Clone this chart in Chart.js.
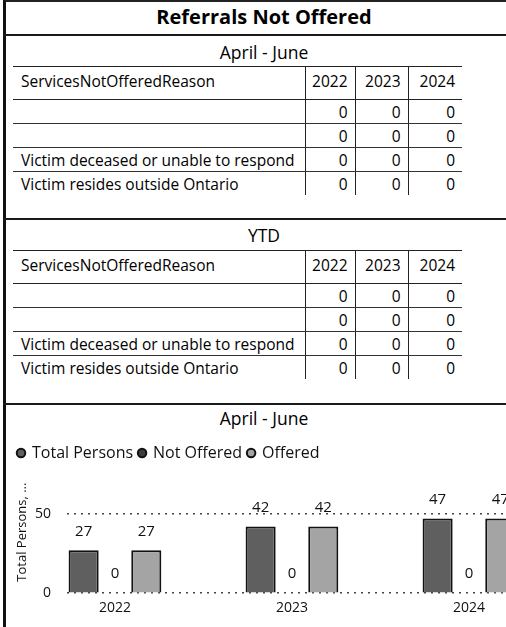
<!DOCTYPE html>
<html lang="en">
<head>
  <meta charset="UTF-8">
  <title>Referrals Not Offered</title>
  <script src="https://cdn.jsdelivr.net/npm/chart.js"></script>
  <style>
    html, body { margin: 0; padding: 0; background: #fff; overflow: hidden; }
    body { width: 506px; height: 627px; position: relative; font-family: "Open Sans", sans-serif; color: #000; }
    #frame { position: absolute; left: 3px; top: 0; width: 560px; height: 627px; border-left: 3px solid #111; border-top: 2px solid #222; box-sizing: border-box; }
    .rule { position: absolute; left: 3px; width: 560px; height: 0; border-top: 2px solid #1a1a1a; }
    .heading { position: absolute; left: 4px; width: 520px; text-align: center; }
    #title { top: 3px; font-size: 20px; font-weight: bold; line-height: 28px; }
    .sub { font-size: 17.5px; line-height: 22px; }
    table { position: absolute; left: 13px; width: 449px; border-collapse: collapse; table-layout: fixed; font-size: 15.5px; }
    th, td { padding: 0; font-weight: normal; }
    th { height: 33px; vertical-align: top; padding-top: 3px; box-sizing: border-box; border-top: 1.5px solid #222; border-bottom: 1.5px solid #222; }
    td { height: 23px; border-bottom: 1px solid #333; }
    tr:last-child td { border-bottom: none; }
    th.name, td.name { text-align: left; padding-left: 8px; white-space: nowrap; }
    th.num, td.num { text-align: right; padding-right: 7px; border-left: 1.5px solid #222; }
    #chartBox { position: absolute; left: 7px; top: 439px; width: 560px; height: 188px; }
  </style>
</head>
<body>
  <div id="frame"></div>
  <div class="rule" style="top:34px"></div>
  <div class="rule" style="top:218px"></div>
  <div class="rule" style="top:403px"></div>

  <div class="heading" id="title">Referrals Not Offered</div>
  <div class="heading sub" style="top:41px">April - June</div>
  <table id="tblQuarter" style="top:66px"></table>
  <div class="heading sub" style="top:224px">YTD</div>
  <table id="tblYtd" style="top:250px"></table>

  <div class="heading sub" style="top:407px">April - June</div>
  <div id="chartBox"><canvas id="myChart" width="560" height="188"></canvas></div>

  <script>
    // table data
    const reasonHeader = 'ServicesNotOfferedReason';
    const years = ['2022', '2023', '2024'];
    const reasons = ['', '', 'Victim deceased or unable to respond', 'Victim resides outside Ontario'];
    const quarter2022 = [0, 0, 0, 0];
    const quarter2023 = [0, 0, 0, 0];
    const quarter2024 = [0, 0, 0, 0];
    const ytd2022 = [0, 0, 0, 0];
    const ytd2023 = [0, 0, 0, 0];
    const ytd2024 = [0, 0, 0, 0];

    // chart data (April - June)
    const totalPersons = [27, 42, 47];
    const notOffered = [0, 0, 0];
    const offered = [27, 42, 47];

    function fillTable(id, cols) {
      const table = document.getElementById(id);
      const colgroup = document.createElement('colgroup');
      [292, 50, 53, 54].forEach(w => {
        const c = document.createElement('col');
        c.style.width = w + 'px';
        colgroup.appendChild(c);
      });
      table.appendChild(colgroup);
      const thead = document.createElement('thead');
      const hr = document.createElement('tr');
      const th0 = document.createElement('th');
      th0.className = 'name';
      th0.textContent = reasonHeader;
      hr.appendChild(th0);
      years.forEach(y => {
        const th = document.createElement('th');
        th.className = 'num';
        th.textContent = y;
        hr.appendChild(th);
      });
      thead.appendChild(hr);
      table.appendChild(thead);
      const tbody = document.createElement('tbody');
      reasons.forEach((r, i) => {
        const tr = document.createElement('tr');
        const td0 = document.createElement('td');
        td0.className = 'name';
        td0.textContent = r;
        tr.appendChild(td0);
        cols.forEach(col => {
          const td = document.createElement('td');
          td.className = 'num';
          td.textContent = col[i];
          tr.appendChild(td);
        });
        tbody.appendChild(tr);
      });
      table.appendChild(tbody);
    }
    fillTable('tblQuarter', [quarter2022, quarter2023, quarter2024]);
    fillTable('tblYtd', [ytd2022, ytd2023, ytd2024]);

    // value labels above the bars
    const valueLabels = {
      id: 'valueLabels',
      afterDatasetsDraw(chart) {
        const ctx = chart.ctx;
        ctx.save();
        ctx.font = '15px "Open Sans"';
        ctx.fillStyle = '#111';
        ctx.textAlign = 'center';
        ctx.textBaseline = 'middle';
        chart.data.datasets.forEach((ds, i) => {
          chart.getDatasetMeta(i).data.forEach((bar, j) => {
            ctx.fillText(ds.data[j].y, bar.x, bar.y - 19);
          });
        });
        ctx.restore();
      }
    };

    const toPoints = vals => years.map((y, i) => ({ x: Number(y), y: vals[i] }));
    const xMin = 2021.729, xMax = 2024.554;

    Chart.defaults.font.family = '"Open Sans", sans-serif';
    Chart.defaults.color = '#111';

    new Chart(document.getElementById('myChart'), {
      type: 'bar',
      data: {
        datasets: [
          { label: 'Total Persons', data: toPoints(totalPersons), backgroundColor: '#5f5f5f', borderColor: '#111', borderWidth: 2 },
          { label: 'Not Offered', data: toPoints(notOffered), backgroundColor: '#3c3c3c', borderColor: '#111', borderWidth: 2 },
          { label: 'Offered', data: toPoints(offered), backgroundColor: '#a4a4a4', borderColor: '#111', borderWidth: 2 }
        ]
      },
      options: {
        responsive: false,
        animation: false,
        categoryPercentage: 0.531,
        barPercentage: 0.96,
        layout: { padding: { left: 5, right: 0, top: 0, bottom: 5 } },
        plugins: {
          legend: {
            position: 'top',
            align: 'start',
            labels: { usePointStyle: true, pointStyle: 'circle', boxWidth: 6, boxHeight: 6, font: { size: 16 }, color: '#111', padding: 6 }
          },
          tooltip: { enabled: false }
        },
        scales: {
          x: {
            type: 'linear',
            offset: false,
            min: xMin,
            max: xMax,
            afterBuildTicks: s => {
              s.min = xMin;
              s.max = xMax;
              s.ticks = years.map(y => ({ value: Number(y) }));
            },
            grid: { display: false, drawTicks: false },
            border: { display: false },
            ticks: { padding: 6, maxRotation: 0, autoSkip: false, font: { size: 14 }, callback: v => String(v) }
          },
          y: {
            min: 0,
            max: 77,
            afterFit: s => { s.width = 55; },
            grid: { drawTicks: false, color: '#444', lineWidth: 1.5 },
            border: { display: false, dash: [2, 5] },
            ticks: { stepSize: 50, includeBounds: false, padding: 16, font: { size: 14 } },
            title: { display: true, text: 'Total Persons, ...', font: { size: 13 }, padding: { top: 2, bottom: 0 } }
          }
        }
      },
      plugins: [valueLabels]
    });
  </script>
</body>
</html>
